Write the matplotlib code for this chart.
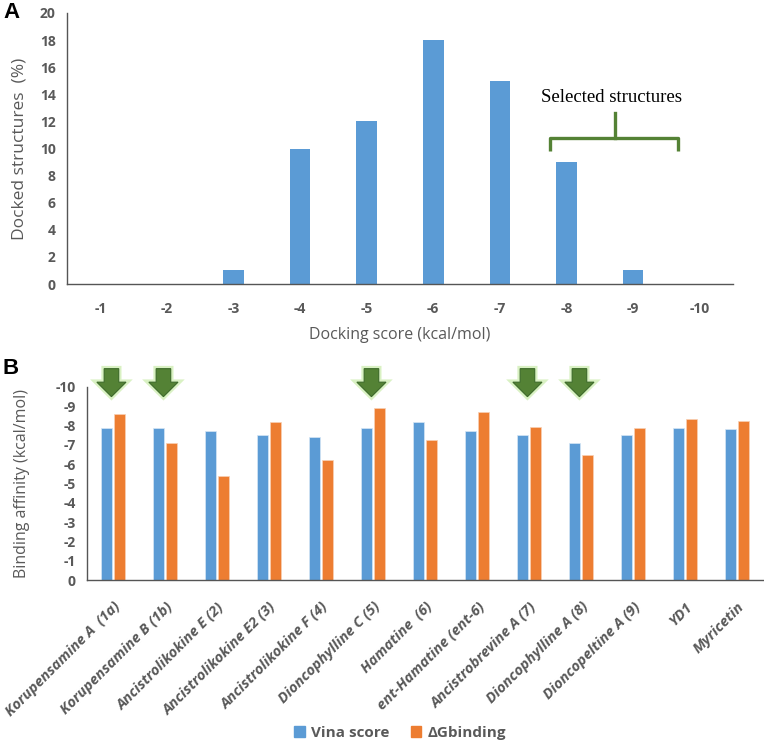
import matplotlib
matplotlib.use("Agg")
import matplotlib.pyplot as plt
import matplotlib.patheffects as pe
from matplotlib.patches import Polygon, Patch
import numpy as np

# ---------------- data ----------------
score_bins = ["-1", "-2", "-3", "-4", "-5", "-6", "-7", "-8", "-9", "-10"]
docked_pct = [0, 0, 1, 10, 12, 18, 15, 9, 1, 0]

compounds = ["Korupensamine A  (1a)", "Korupensamine B (1b)", "Ancistrolikokine E (2)",
             "Ancistrolikokine E2 (3)", "Ancistrolikokine F (4)", "Dioncophylline C (5)",
             "Hamatine  (6)", "ent-Hamatine (ent-6)", "Ancistrobrevine A (7)",
             "Dioncophylline A (8)", "Dioncopeltine A (9)", "YD1", "Myricetin"]
vina_score = [-7.9, -7.9, -7.7, -7.5, -7.4, -7.9, -8.2, -7.7, -7.5, -7.1, -7.5, -7.9, -7.8]
dg_binding = [-8.6, -7.1, -5.4, -8.2, -6.2, -8.9, -7.25, -8.7, -7.95, -6.5, -7.9, -8.35, -8.25]
selected = [0, 1, 5, 8, 9]
b_yticks = [0, -1, -2, -3, -4, -5, -6, -7, -8, -9, -10]

BLUE = "#5B9BD5"
ORANGE = "#ED7D31"
GREEN = "#548235"
GRAY = "#595959"
plt.rcParams['font.family'] = ['Open Sans', 'DejaVu Sans']

fig = plt.figure(figsize=(7.64, 7.45), dpi=100)

# ---------------- panel A ----------------
axA = fig.add_axes([67/764, 1-284/745, (733-67)/764, (284-13)/745])
xa = np.arange(len(score_bins))
axA.bar(xa, docked_pct, width=0.31, color=BLUE, zorder=2)
axA.set_xlim(-0.5, len(score_bins)-0.5)
axA.set_ylim(0, 20)
axA.set_yticks(range(0, 21, 2))
axA.set_xticks(xa)
axA.set_xticklabels(score_bins)
axA.tick_params(length=0, labelsize=10, labelcolor=GRAY)
axA.tick_params(axis='x', pad=13)
axA.tick_params(axis='y', pad=8)
for lab in axA.get_xticklabels() + axA.get_yticklabels():
    lab.set_fontweight('bold')
for s in ['top', 'right']:
    axA.spines[s].set_visible(False)
for s in ['left', 'bottom']:
    axA.spines[s].set_color('#555555')
    axA.spines[s].set_linewidth(1.0)
axA.set_xlabel("Docking score (kcal/mol)", fontsize=11.5, color=GRAY, labelpad=8)
axA.set_ylabel("Docked structures  (%)", fontsize=12.5, color=GRAY)
axA.yaxis.set_label_coords((28-67)/666, 0.5)

# brace annotation
bx0, bx1, bxc = 6.75, 8.67, 7.73
by_line, by_end, by_top = 10.8, 9.8, 12.65
axA.plot([bx0, bx0, bx1, bx1], [by_end, by_line, by_line, by_end], color=GREEN,
         lw=2.4, solid_joinstyle='round', solid_capstyle='butt', zorder=3)
axA.plot([bxc, bxc], [by_line, by_top], color=GREEN, lw=2.4, zorder=3)
axA.text(bxc - 0.05, 13.75, "Selected structures", ha='center', va='center',
         fontsize=13.5, family=['Liberation Serif', 'DejaVu Serif'], color='black')

fig.text(3/764, 1-13/745, "A", fontsize=16, fontweight='bold', ha='left', va='center',
         family=['Liberation Sans', 'DejaVu Sans'])

# ---------------- panel B ----------------
axB = fig.add_axes([87/764, 1-580/745, (763-87)/764, (580-387)/745])
xb = np.arange(len(compounds))
w = 0.21
axB.bar(xb - 0.125, vina_score, width=w, color=BLUE, edgecolor='#d6e6f5', linewidth=0.5, zorder=2, label="Vina score")
axB.bar(xb + 0.125, dg_binding, width=w, color=ORANGE, edgecolor='#f8d0b5', linewidth=0.5, zorder=2, label="\u0394Gbinding")
axB.set_xlim(-0.5, len(compounds)-0.5)
axB.set_ylim(0, -10)
axB.set_yticks(b_yticks)
axB.set_yticklabels([str(v) for v in b_yticks])
axB.set_xticks(xb)
axB.set_xticklabels(compounds, rotation=45, ha='right', va='top', rotation_mode='anchor',
                    fontstyle='italic', fontweight='bold')
axB.tick_params(length=0, labelsize=10, labelcolor=GRAY)
axB.tick_params(axis='y', pad=8)
axB.tick_params(axis='x', pad=14)
for lab in axB.get_xticklabels():
    lab.set_fontsize(10.5)
for lab in axB.get_yticklabels():
    lab.set_fontweight('bold')
for s in ['top', 'right']:
    axB.spines[s].set_visible(False)
for s in ['left', 'bottom']:
    axB.spines[s].set_color('#555555')
    axB.spines[s].set_linewidth(1.0)
axB.set_ylabel("Binding affinity (kcal/mol)", fontsize=11.5, color=GRAY)
axB.yaxis.set_label_coords((30-87)/676, 0.5)

# selection arrows
for i in selected:
    c = i - 0.03
    sw, hw = 0.14, 0.28
    y_top, y_base, y_tip = -10.95, -10.25, -9.5
    pts = [(c - sw, y_top), (c + sw, y_top), (c + sw, y_base), (c + hw, y_base),
           (c, y_tip), (c - hw, y_base), (c - sw, y_base)]
    poly = Polygon(pts, closed=True, facecolor=GREEN, edgecolor='#3d6a2a', linewidth=0.8,
                   clip_on=False, zorder=5)
    poly.set_path_effects([pe.withStroke(linewidth=4, foreground='#d5f0bd', alpha=0.9)])
    axB.add_patch(poly)

fig.text(3/764, 1-369/745, "B", fontsize=16, fontweight='bold', ha='left', va='center',
         family=['Liberation Sans', 'DejaVu Sans'])

handles = [Patch(color=BLUE, label="Vina score"), Patch(color=ORANGE, label="\u0394Gbinding")]
leg = fig.legend(handles=handles, loc='center', bbox_to_anchor=(400/764, 1-733/745), ncol=2,
                 frameon=False, fontsize=11, handlelength=0.7, handleheight=0.7,
                 handletextpad=0.4, columnspacing=1.4)
for t in leg.get_texts():
    t.set_color(GRAY)
    t.set_fontweight('bold')

fig.savefig("out.png", dpi=100)
